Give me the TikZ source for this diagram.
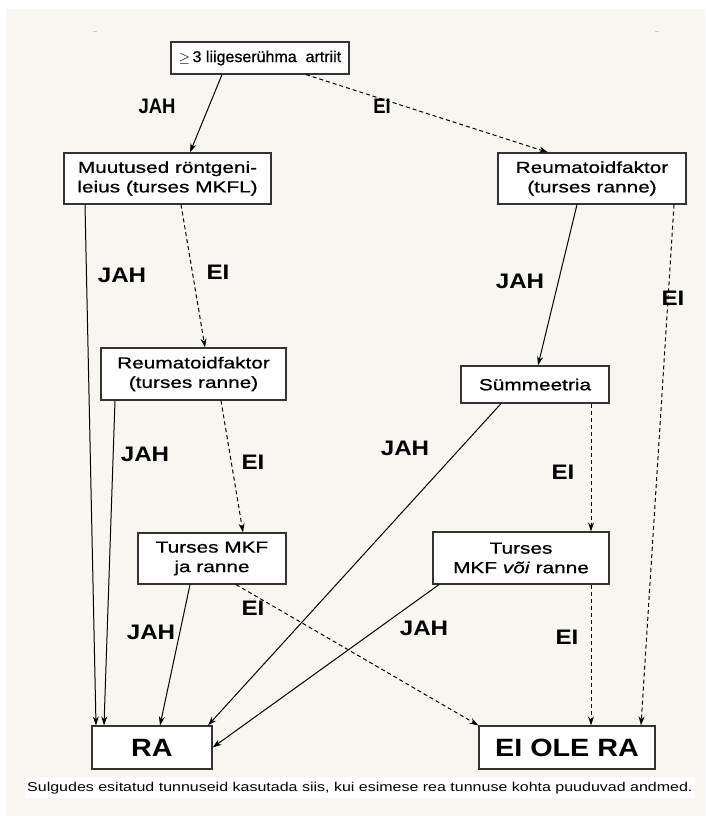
\documentclass[tikz,border=0pt]{standalone}
\usepackage{fontspec}
\setmainfont{Liberation Sans}
\newfontfamily\boxfont[FakeStretch=1.3, FakeBold=0.8]{Liberation Sans}
\newfontfamily\topfont[FakeStretch=1.02, FakeBold=0.8]{Liberation Sans}
\newfontfamily\lblfont[FakeStretch=1.15]{Liberation Sans}
\newfontfamily\toplblfont[FakeStretch=0.88]{Liberation Sans}
\newfontfamily\notefont[FakeStretch=1.25]{Liberation Sans}
\usetikzlibrary{arrows.meta, positioning}
\definecolor{paper}{RGB}{247,246,240}

\tikzset{
  box/.style={draw=black!80, line width=1.2pt, fill=white, align=center, inner sep=0pt,
              font=\boxfont\fontsize{16}{19.5}\selectfont},
  yes/.style={-{Stealth[length=9pt,width=6pt]}, line width=1pt},
  no/.style={yes, dash pattern=on 4pt off 3pt},
  lbl/.style={font=\lblfont\bfseries\fontsize{21}{21}\selectfont},
  toplbl/.style={font=\toplblfont\bfseries\fontsize{21}{21}\selectfont},
  big/.style={font=\lblfont\bfseries\fontsize{25}{25}\selectfont}
}

\begin{document}
\begin{tikzpicture}[x=1pt, y=-1pt]
  \useasboundingbox (0,0) rectangle (705,816);
  % paper
  \fill[paper] (6,9) rectangle (705,816);
  \fill[white] (25,777) rectangle (695,798);
  \draw[black!20, line width=0.5pt] (93,31) -- (97,31);
  \draw[black!20, line width=0.5pt] (655,31) -- (659,31);

  % boxes
  \node[box, minimum width=178pt, minimum height=32pt, font=\topfont\fontsize{15.7}{19}\selectfont] (top) at (260,58) {$\geq$\,3 liigeserühma\ \ artriit};
  \node[box, minimum width=207pt, minimum height=51pt] (muut) at (167.5,178.5) {Muutused röntgeni-\\leius (turses MKFL)};
  \node[box, minimum width=188pt, minimum height=51pt] (reumaR) at (592,178.5) {Reumatoidfaktor\\(turses ranne)};
  \node[box, minimum width=185pt, minimum height=52pt] (reumaL) at (193.5,374) {Reumatoidfaktor\\(turses ranne)};
  \node[box, minimum width=148pt, minimum height=37pt] (summ) at (535,384.5) {Sümmeetria};
  \node[box, minimum width=148pt, minimum height=51pt] (tursJa) at (212,558.5) {Turses MKF\\ja ranne};
  \node[box, minimum width=176pt, minimum height=52pt] (tursVoi) at (521,558) {Turses\\MKF \emph{või} ranne};
  \node[box, big, minimum width=120pt, minimum height=43pt] (ra) at (152,747.5) {RA};
  \node[box, big, minimum width=176pt, minimum height=43pt] (eiole) at (567,747.5) {EI OLE RA};

  % arrows
  \draw[yes] ([xshift=-38pt]top.south) -- ([xshift=22.5pt]muut.north);
  \draw[no] ([xshift=46pt]top.south) -- ([xshift=-44pt]reumaR.north);
  \draw[yes] ([xshift=-82.5pt]muut.south) -- ([xshift=-56pt]ra.north);
  \draw[no] ([xshift=13.5pt]muut.south) -- ([xshift=11.5pt]reumaL.north);
  \draw[yes] ([xshift=-78.5pt]reumaL.south) -- ([xshift=-48pt]ra.north);
  \draw[no] ([xshift=27.5pt]reumaL.south) -- ([xshift=31pt]tursJa.north);
  \draw[yes] ([xshift=-22pt]tursJa.south) -- ([xshift=8pt]ra.north);
  \draw[no] ([xshift=24pt]tursJa.south) -- (eiole.north west);
  \draw[yes] ([xshift=-15pt]reumaR.south) -- ([xshift=3pt]summ.north);
  \draw[no] ([xshift=82pt]reumaR.south) -- ([xshift=74pt]eiole.north);
  \draw[yes] ([xshift=-34pt]summ.south) -- ([xshift=56pt]ra.north);
  \draw[no] ([xshift=56pt]summ.south) -- ([xshift=70pt]tursVoi.north);
  \draw[yes] ([xshift=-82pt]tursVoi.south) -- (ra.east);
  \draw[no] ([xshift=70pt]tursVoi.south) -- ([xshift=24pt]eiole.north);

  % labels
  \node[toplbl] (jah1) at (157,106) {JAH};
  \node[toplbl] (ei1) at (382,106) {EI};
  \node[lbl] (jah2) at (122,275) {JAH};
  \node[lbl] (ei2) at (218,272) {EI};
  \node[lbl] (jah3) at (145,454) {JAH};
  \node[lbl] (ei3) at (253,462) {EI};
  \node[lbl] (jah4) at (151,632) {JAH};
  \node[lbl] (ei4) at (253,608) {EI};
  \node[lbl] (jah5) at (520,281) {JAH};
  \node[lbl] (ei5) at (673,298) {EI};
  \node[lbl] (jah6) at (405,448) {JAH};
  \node[lbl] (ei6) at (563,472) {EI};
  \node[lbl] (jah7) at (424,628) {JAH};
  \node[lbl] (ei7) at (567,637) {EI};

  % footnote
  \node[anchor=west, inner sep=0pt, font=\notefont\fontsize{12.8}{14}\selectfont] (note) at (27,788)
    {Sulgudes esitatud tunnuseid kasutada siis, kui esimese rea tunnuse kohta puuduvad andmed.};
\end{tikzpicture}
\end{document}
